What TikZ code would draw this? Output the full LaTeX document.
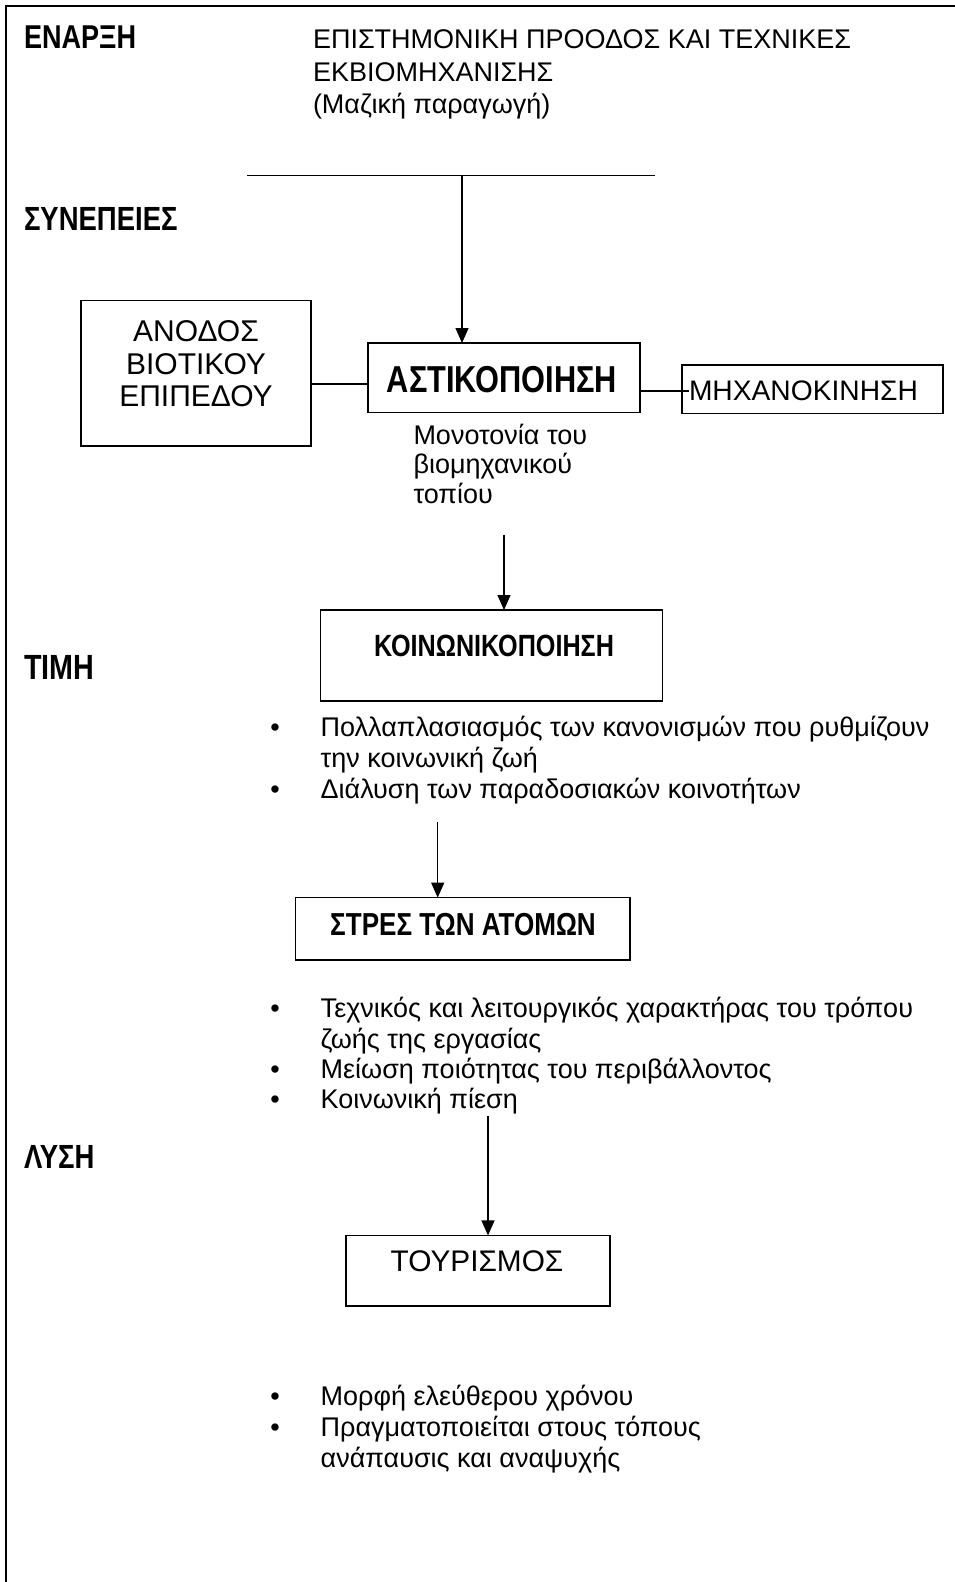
\documentclass[tikz,border=0pt]{standalone}
\usepackage{fontspec}
\setmainfont{Liberation Sans}
\newfontfamily\narrowbf{Liberation Sans}[FakeStretch=0.82]
\usetikzlibrary{arrows.meta}
\begin{document}
\begin{tikzpicture}[x=1pt,y=-1pt,
  every node/.style={inner sep=0pt, outer sep=0pt},
  txt/.style={font=\fontsize{27}{31}\selectfont, align=left},
  heading/.style={font=\narrowbf\bfseries\fontsize{#1}{31}\selectfont, align=left},
  heading/.default=33,
  boxnode/.style={draw, line width=1.4pt},
  wire/.style={line width=1.3pt},
  arrowwire/.style={wire, -{Triangle[width=13pt,length=15pt]}},
  bullet/.style={font=\fontsize{27}{31}\selectfont, anchor=base},
  item/.style={txt, anchor=base west},
  ]
\useasboundingbox (0,0) rectangle (955,1582);

% page frame (top and left edges)
\coordinate (frameTR) at (955,6);
\coordinate (frameTL) at (6,6);
\coordinate (frameBL) at (6,1582);
\draw[line width=2pt] (frameTR) -- (frameTL) -- (frameBL);

% section headings
\node[heading, anchor=base west] (enarxi) at (24,48) {ΕΝΑΡΞΗ};
\node[heading=33.5, anchor=base west] (synepeies) at (24,230) {ΣΥΝΕΠΕΙΕΣ};
\node[heading=35, anchor=base west] (timi) at (24,679) {ΤΙΜΗ};
\node[heading=33.5, anchor=base west] (lysi) at (24,1168) {ΛΥΣΗ};

% starting point (base anchor = last line)
\node[item, font=\fontsize{27}{32.5}\selectfont] (title) at (313,113.5) {ΕΠΙΣΤΗΜΟΝΙΚΗ ΠΡΟΟΔΟΣ ΚΑΙ ΤΕΧΝΙΚΕΣ\\ΕΚΒΙΟΜΗΧΑΝΙΣΗΣ\\(Μαζική παραγωγή)};
\coordinate (barL) at (247,175.5);
\coordinate (barR) at (655,175.5);
\coordinate (barM) at (462,175.5);
\draw[wire] (barL) -- (barR);

% consequences row
\node[boxnode, minimum width=230, minimum height=145.5] (anodos) at (196,373.25) {};
\node[txt, align=center, font=\fontsize{30}{32.5}\selectfont] (anodos-t) at (196,364) {ΑΝΟΔΟΣ\\ΒΙΟΤΙΚΟΥ\\ΕΠΙΠΕΔΟΥ};

\node[boxnode, minimum width=272, minimum height=69.5] (astik) at (504,377.75) {};
\node[heading=37.5] (astik-t) at (502,380) {ΑΣΤΙΚΟΠΟΙΗΣΗ};

\node[boxnode, minimum width=261, minimum height=48.5] (mech) at (812.5,389.25) {};
\node[txt, anchor=west, font=\fontsize{28.2}{31}\selectfont] (mech-t) at (689,391) {ΜΗΧΑΝΟΚΙΝΗΣΗ};

\coordinate (leftlink) at (0,384);
\draw[arrowwire] (barM) -- (barM |- astik.north);
\draw[wire] (anodos.east |- leftlink) -- (astik.west |- leftlink);
\draw[wire] (astik.east |- mech-t.west) -- (mech-t.west);

\node[item, font=\fontsize{27}{29.5}\selectfont] (monot) at (413.5,503) {Μονοτονία του\\βιομηχανικού\\τοπίου};

% socialisation
\node[boxnode, minimum width=342, minimum height=91] (koin) at (491.65,655.5) {};
\node[heading=30.7] (koin-t) at (494,645.5) {ΚΟΙΝΩΝΙΚΟΠΟΙΗΣΗ};
\coordinate (koin-in) at (504,534.5);
\draw[arrowwire] (koin-in) -- (koin-in |- koin.north);

\node[bullet] (b1) at (275,736) {•};
\node[item] (i1) at (320.7,767) {Πολλαπλασιασμός των κανονισμών που ρυθμίζουν\\την κοινωνική ζωή};
\node[bullet] (b2) at (275,798) {•};
\node[item] (i2) at (320.7,798) {Διάλυση των παραδοσιακών κοινοτήτων};

% stress
\node[boxnode, minimum width=334.5, minimum height=62.4] (stres) at (462.75,928.8) {};
\node[heading=31.8] (stres-t) at (463,925) {ΣΤΡΕΣ ΤΩΝ ΑΤΟΜΩΝ};
\coordinate (stres-in) at (437.7,822);
\draw[arrowwire] (stres-in) -- (stres-in |- stres.north);

\node[bullet] (b3) at (275,1017) {•};
\node[item] (i3) at (320.7,1048) {Τεχνικός και λειτουργικός χαρακτήρας του τρόπου\\ζωής της εργασίας};
\node[bullet] (b4) at (275,1078.5) {•};
\node[item] (i4) at (320.7,1078.5) {Μείωση ποιότητας του περιβάλλοντος};
\node[bullet] (b5) at (275,1108.5) {•};
\node[item] (i5) at (320.7,1108.5) {Κοινωνική πίεση};

% tourism
\node[boxnode, minimum width=264, minimum height=70.6] (tour) at (478,1270.7) {};
\node[txt, font=\fontsize{29.8}{31}\selectfont] (tour-t) at (477,1261) {ΤΟΥΡΙΣΜΟΣ};
\coordinate (tour-in) at (488,1116.4);
\draw[arrowwire] (tour-in) -- (tour-in |- tour.north);

\node[bullet] (b6) at (275,1405.5) {•};
\node[item] (i6) at (320.7,1405.5) {Μορφή ελεύθερου χρόνου};
\node[bullet] (b7) at (275,1436.5) {•};
\node[item] (i7) at (320.7,1467.5) {Πραγματοποιείται στους τόπους\\ανάπαυσις και αναψυχής};
\end{tikzpicture}
\end{document}
